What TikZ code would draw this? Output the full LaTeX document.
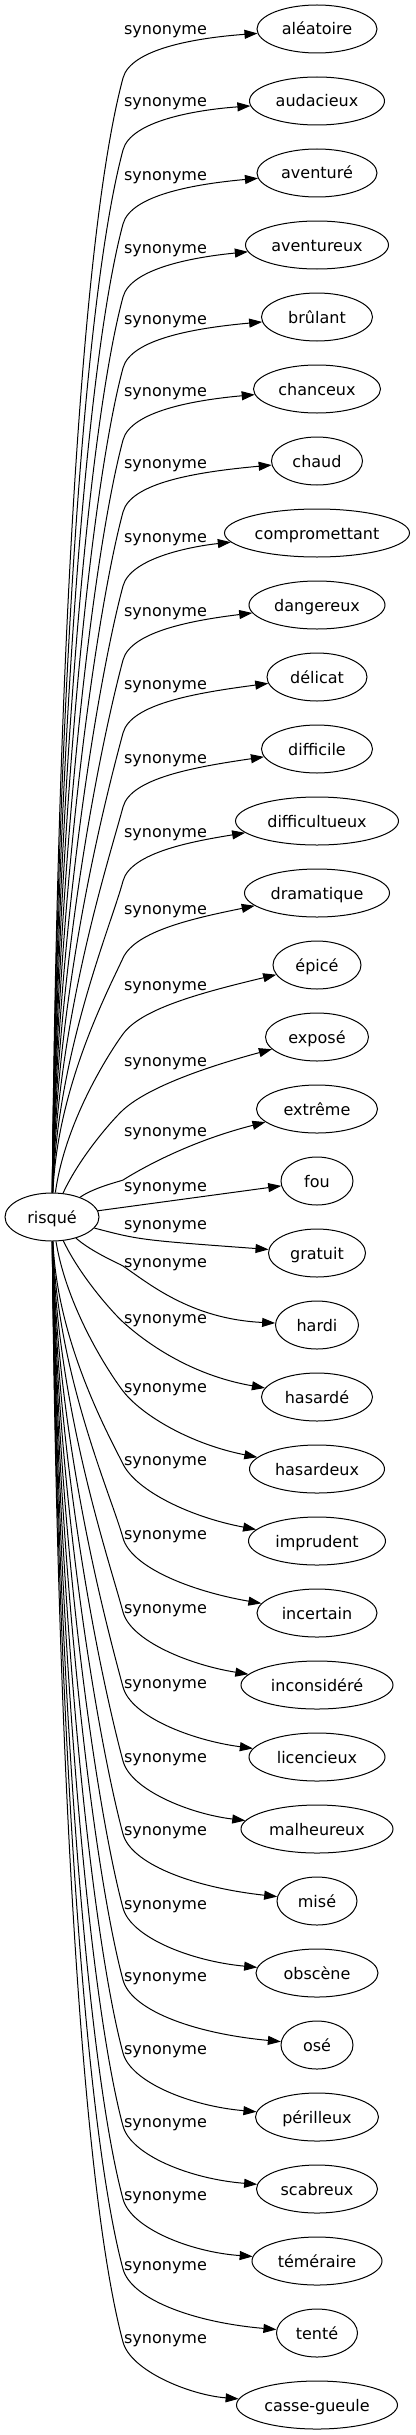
\documentclass[tikz,border=0pt]{standalone}
\usepackage{fontspec}
\setmainfont{DejaVu Sans}
\usetikzlibrary{arrows.meta,shapes.geometric}
\tikzset{
  % --- Synonym graph ---------------------------------------------------------
  headword/.style={
    ellipse, draw, line width=1pt, inner sep=0pt,
    minimum width=94pt, minimum height=48pt,
    text height=13pt, text depth=1pt, font=\fontsize{16pt}{19pt}\selectfont
  },
  synword/.style={
    ellipse, draw, line width=1pt, inner sep=0pt, minimum height=48pt,
    text height=13pt, text depth=1pt, font=\fontsize{16pt}{19pt}\selectfont
  },
  synlabel/.style={anchor=base, inner sep=0pt, font=\fontsize{16pt}{19pt}\selectfont},
  synarrow/.style={-{Triangle[length=13pt,width=9pt]}, line width=1pt},
}

\begin{document}
\begin{tikzpicture}[x=1pt, y=-1pt]
  \useasboundingbox (0,0) rectangle (415,2435);
  \node[headword] (risque) at (52,1217) {risqué};

  \foreach \i/\word/\w/\yl in {
      1/aléatoire/120/30, 2/audacieux/135/102, 3/aventuré/120/176,
      4/aventureux/143/249, 5/brûlant/111/320, 6/chanceux/127/392,
      7/chaud/91/464, 8/compromettant/185/538, 9/dangereux/136/612,
      10/délicat/100/685, 11/difficile/111/759, 12/difficultueux/163/833,
      13/dramatique/145/910, 14/épicé/88/986, 15/exposé/103/1062,
      16/extrême/121/1132, 17/fou/72/1187, 18/gratuit/97/1225,
      19/hardi/83/1263, 20/hasardé/111/1319, 21/hasardeux/135/1388,
      22/imprudent/137/1461, 23/incertain/120/1535, 24/inconsidéré/152/1609,
      25/licencieux/136/1684, 26/malheureux/152/1758, 27/misé/80/1831,
      28/obscène/122/1905, 29/osé/72/1977, 30/périlleux/123/2050,
      31/scabreux/121/2123, 32/téméraire/130/2196, 33/tenté/81/2266,
      34/casse-gueule/161/2339}{
    \pgfmathsetmacro{\yt}{29+72*(\i-1)}
    \node[synword, minimum width=\w pt] (t\i) at (317,\yt) {\word};
    \node[synlabel] (l\i) at (165.5,\yl+4.5) {synonyme};
    \ifnum\i=17
      \draw[synarrow] (risque) -- (t\i);
    \else\ifnum\i=18
      \draw[synarrow] (risque) .. controls (140,1240) .. (t\i);
    \else
      % up the trunk above risqué, down the trunk below it
      \ifnum\i<17
        \def\sgn{-1}\def\basey{1193}\def\endx{195}
        \pgfmathsetmacro{\bendy}{\yl+48}\pgfmathsetmacro{\endy}{\yl+8}
      \else
        \def\sgn{1}\def\basey{1241}\def\endx{190}
        \pgfmathsetmacro{\bendy}{\yl+3}\pgfmathsetmacro{\endy}{\yl+56}
      \fi
      \pgfmathsetmacro{\rise}{(\sgn)*(\bendy-\basey)}
      \pgfmathsetmacro{\tilt}{30+45*min(1,\rise/300)}
      \pgfmathsetmacro{\pull}{0.15*\rise}
      \coordinate (a\i) at ({57+40*max(0,1-\rise/200)},{\basey+(\sgn)*0.45*\rise});
      \coordinate (b\i) at ({123-\pull*cos(\tilt)},{\bendy-(\sgn)*\pull*sin(\tilt)});
      \coordinate (p\i) at (123,\bendy);
      \coordinate (c\i) at ({123+30*cos(\tilt)},{\bendy+(\sgn)*30*sin(\tilt)});
      \coordinate (e\i) at (\endx,\endy);
      \draw[synarrow] (risque) .. controls (a\i) and (b\i) .. (p\i)
        .. controls (c\i) and (e\i) .. (t\i);
    \fi\fi
  }
\end{tikzpicture}
\end{document}
